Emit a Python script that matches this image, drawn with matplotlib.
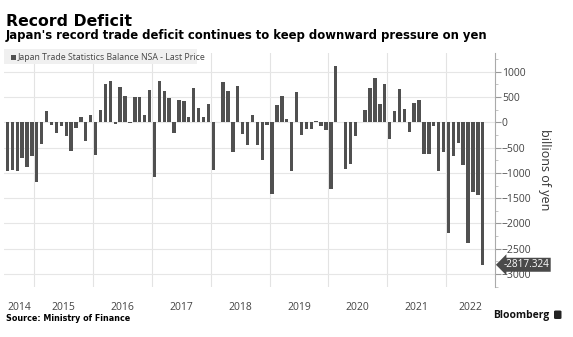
import numpy as np
import matplotlib.pyplot as plt
from matplotlib.patches import FancyBboxPatch

# Japan trade balance, NSA, billions of yen, Jul 2014 .. Aug 2022
years = ['2014', '2015', '2016', '2017', '2018', '2019', '2020', '2021', '2022']
balance_2014 = [-964, -948, -958, -710, -891, -660]
balance_2015 = [-1177, -424, 229, -53, -216, -69, -268, -569, -115, 111, -379, 140]
balance_2016 = [-649, 243, 755, 823, -30, 693, 513, -19, 498, 496, 153, 641]
balance_2017 = [-1087, 814, 614, 481, -203, 440, 419, 113, 670, 285, 113, 359]
balance_2018 = [-944, 3, 797, 626, -578, 721, -231, -444, 140, -450, -737, -55]
balance_2019 = [-1415, 339, 528, 60, -967, 589, -249, -136, -123, 17, -82, -152]
balance_2020 = [-1313, 1109, 5, -930, -833, -269, 11, 248, 675, 872, 367, 751]
balance_2021 = [-323, 217, 663, 255, -187, 383, 441, -635, -623, -67, -954, -582]
balance_2022 = [-2191, -668, -412, -839, -2385, -1384, -1436, -2817.324]

balance = np.array(balance_2014 + balance_2015 + balance_2016 + balance_2017 +
                   balance_2018 + balance_2019 + balance_2020 + balance_2021 +
                   balance_2022)
months = np.arange(len(balance))          # 0 = Jul 2014
first_month = 6                           # July is month 7 -> offset 6 in 2014

W, H = 573, 337
fig = plt.figure(figsize=(W / 100, H / 100), dpi=100)

ax = fig.add_axes([4 / W, 50 / H, 491 / W, 234 / H])
ax.bar(months, balance, width=0.68, color='#505050', zorder=3)

xmin, xmax = -0.7, 99.5
ax.set_xlim(xmin, xmax)
ax.set_ylim(-3257, 1370)

# year boundaries as vertical grid lines, labels centred on the visible year
bounds = [12 * (i + 1) - first_month - 0.5 for i in range(len(years) - 1)]
for b in bounds:
    ax.axvline(b, color='#e3e3e3', lw=0.8, zorder=1)
edges = [xmin] + bounds + [xmax]
centres = [(edges[i] + edges[i + 1]) / 2 for i in range(len(years))]
ax.set_xticks(centres)
ax.set_xticklabels(years)
ax.tick_params(axis='x', length=0, pad=11, labelsize=7.5, labelcolor='#444444')

yticks = np.arange(-3000, 1001, 500)
ax.set_yticks(yticks)
ax.set_yticks(np.arange(-3250, 1300, 250), minor=True)
for t in yticks:
    ax.axhline(t, color='#e6e6e6', lw=0.8, zorder=1)
ax.yaxis.tick_right()
ax.tick_params(axis='y', which='major', length=4, width=0.8, color='#999999',
               labelsize=7.5, labelcolor='#444444', pad=1)
ax.tick_params(axis='y', which='minor', length=2, width=0.6, color='#bbbbbb')
ax.yaxis.set_label_position('right')
ax.set_ylabel('billions of yen', rotation=-90, fontsize=9, color='#333333',
              labelpad=14, family='Open Sans')

for s in ['top', 'left', 'bottom']:
    ax.spines[s].set_visible(False)
ax.spines['right'].set_color('#aaaaaa')
ax.spines['right'].set_linewidth(0.8)

for lab in ax.get_xticklabels() + ax.get_yticklabels():
    lab.set_family('Open Sans')

# last value tag
ax.annotate(f'{balance[-1]:.3f}', xy=(1.0, balance[-1]),
            xycoords=('axes fraction', 'data'), xytext=(6, 0),
            textcoords='offset points', va='center', ha='left',
            fontsize=7.2, color='white', family='Open Sans',
            bbox=dict(boxstyle='larrow,pad=0.15', fc='#4a4a4a', ec='none'),
            annotation_clip=False, zorder=5)

# legend strip
fig.patches.append(FancyBboxPatch((4 / W, 1 - 64 / H), 193 / W, 15 / H,
                                  boxstyle='square,pad=0', fc='#f0f0f0',
                                  ec='none', transform=fig.transFigure,
                                  zorder=4))
fig.patches.append(FancyBboxPatch((11 / W, 1 - 59.5 / H), 5 / W, 5 / H,
                                  boxstyle='square,pad=0', fc='#505050',
                                  ec='none', transform=fig.transFigure,
                                  zorder=5))
fig.text(18 / W, 1 - 57 / H, 'Japan Trade Statistics Balance NSA - Last Price',
         fontsize=6.3, color='#444444', va='center', family='Open Sans',
         zorder=6)

# headings
fig.text(6 / W, 1 - 26 / H, 'Record Deficit', fontsize=11.3,
         fontweight='bold', color='black', va='baseline')
fig.text(6 / W, 1 - 39 / H,
         "Japan's record trade deficit continues to keep downward pressure on yen",
         fontsize=8.4, fontweight='bold', color='black', va='baseline')

# footer
fig.text(6 / W, 1 - 321 / H, 'Source: Ministry of Finance', fontsize=5.75,
         fontweight='bold', color='black', va='baseline')
fig.text(549 / W, 1 - 318 / H, 'Bloomberg', fontsize=7.5, fontweight='bold',
         color='#111111', va='baseline', ha='right', family='Open Sans')
fig.patches.append(FancyBboxPatch((554 / W, 1 - 319 / H), 7.5 / W, 8.5 / H,
                                  boxstyle='round,pad=0,rounding_size=0.003',
                                  fc='#222222', ec='none',
                                  transform=fig.transFigure))

fig.savefig('out.png', dpi=100)
